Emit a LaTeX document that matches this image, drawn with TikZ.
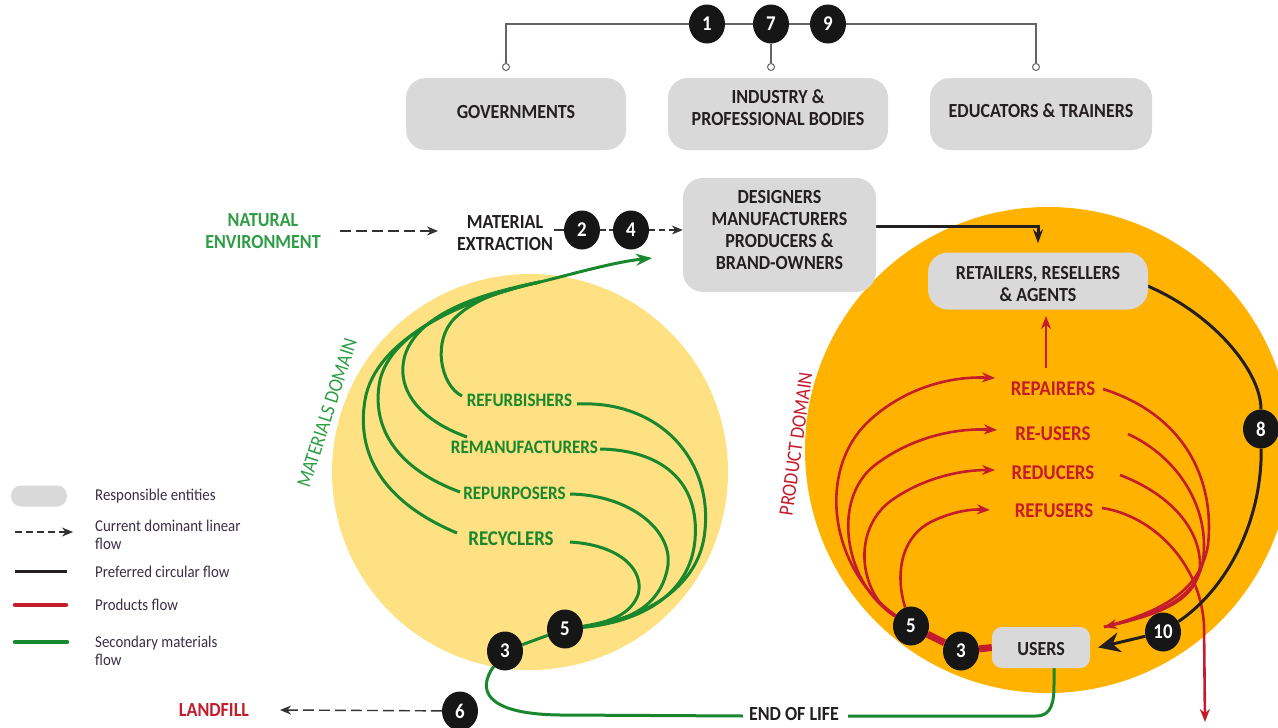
\documentclass[tikz,border=0pt]{standalone}
\usepackage{fontspec}
\setmainfont{Carlito}[FakeStretch=0.9]
\usetikzlibrary{arrows.meta,shapes.geometric}
\definecolor{boxgray}{RGB}{217,217,217}
\definecolor{mygreen}{RGB}{24,135,45}
\definecolor{lgreen}{RGB}{46,158,70}
\definecolor{myred}{RGB}{196,28,44}
\definecolor{orng}{RGB}{255,178,0}
\definecolor{ylw}{RGB}{253,225,130}
\definecolor{ink}{RGB}{35,31,32}
\definecolor{legink}{RGB}{60,45,70}
\definecolor{linegray}{RGB}{100,100,100}
\definecolor{dashgray}{RGB}{50,50,50}
\definecolor{badgeblack}{RGB}{22,22,22}
\pgfdeclarelayer{back}
\pgfdeclarelayer{lines}
\pgfsetlayers{back,lines,main}
\begin{document}
\begin{tikzpicture}[x=1pt,y=-1pt,
  entity/.style={fill=boxgray, rounded corners=20pt, inner sep=0pt},
  badge/.style={ellipse, fill=badgeblack, text=white, font=\bfseries\fontsize{21}{21}\selectfont, minimum width=36pt, minimum height=39pt, inner sep=0pt},
  hole/.style={circle, draw=linegray, fill=white, line width=1pt, minimum size=7pt, inner sep=0pt},
  lbl/.style={font=\bfseries\fontsize{20}{22}\selectfont, text=ink, align=center, inner sep=1pt},
  glbl/.style={font=\bfseries\fontsize{19}{20}\selectfont, text=mygreen, inner sep=1pt},
  rlbl/.style={font=\bfseries\fontsize{21}{22}\selectfont, text=myred, inner sep=1pt},
  legtext/.style={font=\fontsize{16.5}{18}\selectfont, text=legink, align=left, anchor=west, inner sep=0pt},
  topline/.style={draw=linegray, line width=1.6pt},
  dasharrow/.style={draw=dashgray, line width=1.4pt, dash pattern=on 11pt off 5pt, -{Stealth[length=11pt,width=9pt]}},
  gflow/.style={draw=mygreen, line width=3pt},
  rflow/.style={draw=myred, line width=2.6pt},
  bflow/.style={draw=ink, line width=3pt},
  rtipstyle/.style={-{Stealth[length=13pt,width=10pt]}},
]
\useasboundingbox (0,0) rectangle (1278,728);
\begin{pgfonlayer}{back}
  \fill[white] (0,0) rectangle (1278,728);
  \fill[ylw] (530,472) circle[radius=198pt];
  \fill[orng] (1048,450) circle[radius=243pt];
\end{pgfonlayer}

% ---------- entity boxes ----------
\node[entity, minimum width=220pt, minimum height=72pt] (gov) at (516,114) {};
\node[entity, minimum width=220pt, minimum height=72pt] (ind) at (778,114) {};
\node[entity, minimum width=222pt, minimum height=72pt] (edu) at (1041,114) {};
\node[entity, minimum width=193pt, minimum height=114pt] (des) at (779.5,235) {};
\node[entity, minimum width=220pt, minimum height=57pt] (ret) at (1038,281) {};
\node[entity, rounded corners=10pt, minimum width=98pt, minimum height=41pt] (usr) at (1041,647.5) {};
\node[lbl] (govt) at (516,112) {GOVERNMENTS};
\node[lbl] (indt) at (778,108) {INDUSTRY \&\\PROFESSIONAL BODIES};
\node[lbl] (edut) at (1041,111) {EDUCATORS \& TRAINERS};
\node[lbl] (dest) at (779.5,230) {DESIGNERS\\MANUFACTURERS\\PRODUCERS \&\\BRAND-OWNERS};
\node[lbl] (rett) at (1038,284) {RETAILERS, RESELLERS\\\& AGENTS};
\node[lbl] (usrt) at (1041,649) {USERS};

% ---------- top connector ----------
\node[hole] (h1) at (506,67) {};
\node[hole] (h2) at (771,67) {};
\node[hole] (h3) at (1036,67) {};
\node[badge] (b1) at (707,24) {1};
\node[badge] (b7) at (771,24) {7};
\node[badge] (b9) at (828,24) {9};
\begin{pgfonlayer}{lines}
  \draw[topline] (h1) |- (b1);
  \draw[topline] (b1) -- (b7);
  \draw[topline] (b7) -- (b9);
  \draw[topline] (b9) -| (h3);
  \draw[topline] (b7) -- (h2);
\end{pgfonlayer}

% ---------- labels ----------
\node[lbl, text=lgreen] (nat) at (263,231) {NATURAL\\ENVIRONMENT};
\node[lbl] (mat) at (505,233) {MATERIAL\\EXTRACTION};
\node[lbl, text=myred] (land) at (214,710) {LANDFILL};
\node[lbl] (eol) at (794,714) {END OF LIFE};

\node[glbl] (refb) at (519.5,400) {REFURBISHERS};
\node[glbl] (reman) at (524.5,447) {REMANUFACTURERS};
\node[glbl] (repur) at (514.5,493) {REPURPOSERS};
\node[glbl, font=\bfseries\fontsize{21}{22}\selectfont] (recy) at (511,539) {RECYCLERS};

\node[rlbl] (repa) at (1053,389) {REPAIRERS};
\node[rlbl] (reus) at (1053,434) {RE-USERS};
\node[rlbl] (redu) at (1053,473) {REDUCERS};
\node[rlbl] (refu) at (1054,511) {REFUSERS};

\node[rotate=72, text=lgreen, font=\fontsize{20.5}{20}\selectfont, inner sep=0pt] (matdom) at (327,413) {MATERIALS DOMAIN};
\node[rotate=82, text=myred, font=\fontsize{20.5}{20}\selectfont, inner sep=0pt] (prodom) at (796,444) {PRODUCT DOMAIN};

% ---------- badges ----------
\node[badge] (b2) at (582,230) {2};
\node[badge] (b4) at (631,230) {4};
\node[badge] (b5l) at (565,629) {5};
\node[badge] (b3l) at (505,651) {3};
\node[badge] (b6) at (460,711) {6};
\node[badge] (b5r) at (911,626) {5};
\node[badge] (b3r) at (961,651) {3};
\node[badge] (b10) at (1163,632) {10};
\node[badge] (b8) at (1261,429) {8};

% ---------- coordinates ----------
\coordinate (gtip) at (652,258);
\coordinate (gm) at (540,282);
\coordinate (gs1) at (462,396);
\coordinate (gs2) at (467,437);
\coordinate (gs3) at (460,492);
\coordinate (gs4) at (457,533);
\coordinate (ge1) at (577,404);
\coordinate (ge2) at (600,449);
\coordinate (ge3) at (570,494);
\coordinate (ge4) at (570,542);
\coordinate (rtip) at (1104,627);
\coordinate (rs1) at (1103,389);
\coordinate (rs2) at (1128,434);
\coordinate (rs3) at (1120,475);
\coordinate (rs4) at (1102,508);
\coordinate (rdown) at (1205,722);
\coordinate (rt1) at (995,378);
\coordinate (rt2) at (997,430);
\coordinate (rt3) at (995,470);
\coordinate (rt4) at (990,510);
\coordinate (upS) at (1046,368);
\coordinate (upE) at (1046,316);
\coordinate (natE) at (340,231);
\coordinate (matS) at (438,231);
\coordinate (landE) at (280,710);
\coordinate (eolL) at (743,716);
\coordinate (eolR) at (848,716);

\begin{pgfonlayer}{lines}
  % dashed linear flow
  \draw[dasharrow] (natE) -- (matS);
  \draw[dashgray, line width=1.4pt, dash pattern=on 11pt off 5pt] (mat.east |- b2) -- (b2);
  \draw[dashgray, line width=1.4pt, dash pattern=on 6pt off 3pt] (b2) -- (b4);
  \draw[dasharrow, dash pattern=on 6pt off 4pt] (b4) -- (des.west |- b4);
  \draw[dasharrow] (b6) -- (landE);

  % designers -> retailers
  \draw[bflow, -{Stealth[length=14pt,width=10pt]}] ([yshift=9pt]des.east) -| ([yshift=9pt]ret.north);

  % green: materials domain
  \draw[gflow] (gs1) .. controls (440,385) and (432,340) .. (455,318) .. controls (475,298) and (510,288) .. (gm);
  \draw[gflow] (gs2) .. controls (420,420) and (395,390) .. (405,355) .. controls (420,310) and (490,292) .. (gm);
  \draw[gflow] (gs3) .. controls (400,470) and (370,430) .. (380,380) .. controls (392,330) and (470,297) .. (gm);
  \draw[gflow] (gs4) .. controls (390,505) and (355,460) .. (365,400) .. controls (375,340) and (460,300) .. (gm);
  \draw[gflow, -{Stealth[length=16pt,width=12pt]}] (gm) .. controls (580,272) and (615,262) .. (gtip);

  \draw[gflow] (ge1) .. controls (660,400) and (712,460) .. (705,530) .. controls (700,590) and (640,620) .. (b5l);
  \draw[gflow] (ge2) .. controls (660,450) and (700,480) .. (695,540) .. controls (690,595) and (640,622) .. (b5l);
  \draw[gflow] (ge3) .. controls (630,495) and (672,530) .. (668,565) .. controls (662,605) and (630,622) .. (b5l);
  \draw[gflow] (ge4) .. controls (620,545) and (645,570) .. (638,595) .. controls (630,615) and (610,622) .. (b5l);
  \draw[gflow] (b5l) -- (b3l);
  \draw[gflow] (b3l) .. controls (478,688) and (482,714) .. (560,715) -- (eolL);
  \draw[gflow] (eolR) -- (1036,716) .. controls (1052,716) and (1054,702) .. (1054,684) -- ([xshift=13pt]usr.south);

  % red: product domain
  \draw[myred, line width=7pt] (b5r) -- (b3r);
  \draw[myred, line width=7pt] (b3r) -- (usr.west);
  \draw[rflow, rtipstyle] (b5r) .. controls (830,570) and (815,470) .. (870,420) .. controls (905,388) and (950,376) .. (rt1);
  \draw[rflow, rtipstyle] (b5r) .. controls (845,585) and (830,500) .. (875,465) .. controls (912,437) and (955,428) .. (rt2);
  \draw[rflow, rtipstyle] (b5r) .. controls (860,595) and (850,530) .. (892,500) .. controls (922,479) and (958,470) .. (rt3);
  \draw[rflow, rtipstyle] (b5r) .. controls (895,575) and (900,535) .. (935,520) .. controls (955,511) and (972,509) .. (rt4);

  \draw[rflow] (rs1) .. controls (1185,415) and (1215,480) .. (1208,545) .. controls (1200,592) and (1160,612) .. (rtip);
  \draw[rflow] (rs2) .. controls (1180,458) and (1210,510) .. (1203,560) .. controls (1197,598) and (1160,614) .. (rtip);
  \draw[rflow, rtipstyle] (rs3) .. controls (1165,492) and (1200,525) .. (1200,565) .. controls (1198,600) and (1160,614) .. (rtip);
  \draw[rflow, rtipstyle] (rs4) .. controls (1150,515) and (1200,560) .. (1204,625) -- (rdown);
  \draw[rflow, rtipstyle] (upS) -- (upE);

  % black: preferred circular flow
  \draw[bflow] (ret.east) ++(-8,2) .. controls (1210,310) and (1261,370) .. (b8);
  \draw[bflow] (b8) .. controls (1262,520) and (1228,588) .. (b10);
  \draw[bflow, -{Stealth[length=22pt,width=20pt]}] (b10) -- ([xshift=8pt]usr.east);
\end{pgfonlayer}

% ---------- legend ----------
\node[fill=boxgray, rounded corners=10pt, minimum width=56pt, minimum height=21pt, inner sep=0pt] (lgbox) at (39,496) {};
\coordinate (ld1) at (15,532); \coordinate (ld2) at (73,532);
\coordinate (lk1) at (15,571); \coordinate (lk2) at (67,571);
\coordinate (lr1) at (15,605); \coordinate (lr2) at (66,605);
\coordinate (lg1) at (15,642); \coordinate (lg2) at (67,642);
\draw[dasharrow, line width=1.2pt, dash pattern=on 7pt off 4pt] (ld1) -- (ld2);
\draw[ink, line width=3pt] (lk1) -- (lk2);
\draw[myred, line width=4.5pt, line cap=round] (lr1) -- (lr2);
\draw[mygreen, line width=4.5pt, line cap=round] (lg1) -- (lg2);
\node[legtext] (lt1) at (95,496) {Responsible entities};
\node[legtext] (lt2) at (95,535) {Current dominant linear\\flow};
\node[legtext] (lt3) at (95,572) {Preferred circular flow};
\node[legtext] (lt4) at (95,605) {Products flow};
\node[legtext] (lt5) at (95,651) {Secondary materials\\flow};
\end{tikzpicture}
\end{document}
